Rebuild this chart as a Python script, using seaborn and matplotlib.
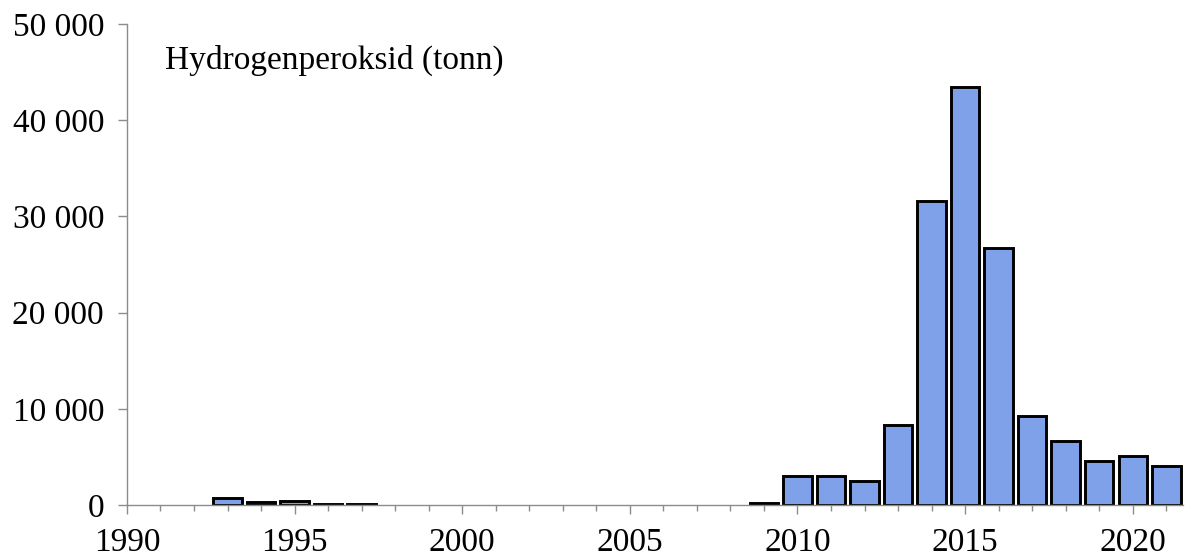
import matplotlib
matplotlib.use("Agg")
import matplotlib.pyplot as plt
import seaborn as sns
from matplotlib.ticker import FuncFormatter, MultipleLocator

# data (tonn per year)
years = [1993, 1994, 1995, 1996, 1997, 2009, 2010, 2011, 2012, 2013,
         2014, 2015, 2016, 2017, 2018, 2019, 2020, 2021]
tonn = [700, 300, 400, 150, 150, 250, 3050, 3050, 2500, 8350,
        31600, 43400, 26700, 9250, 6700, 4600, 5050, 4000]

label = "Hydrogenperoksid (tonn)"
bar_color = "#7ea1e9"
axis_gray = "#8c8c8c"

sns.set_style("white")
plt.rcParams["font.family"] = ["Liberation Serif", "DejaVu Serif"]

fig = plt.figure(figsize=(11.92, 5.57), dpi=100)
ax = fig.add_axes([0.1065, 0.0934, 0.886, 0.8636])

sns.barplot(x=years, y=tonn, native_scale=True, width=0.85, color=bar_color,
            edgecolor="black", linewidth=2.1, saturation=1, ax=ax)

ax.set_xlim(1990, 2021.5)
ax.set_ylim(0, 50000)
ax.xaxis.set_major_locator(MultipleLocator(5))
ax.xaxis.set_minor_locator(MultipleLocator(1))
ax.yaxis.set_major_locator(MultipleLocator(10000))
ax.yaxis.set_major_formatter(FuncFormatter(lambda v, p: f"{int(v):,}".replace(",", " ")))
ax.xaxis.set_major_formatter(FuncFormatter(lambda v, p: f"{int(v)}"))

for s in ["top", "right"]:
    ax.spines[s].set_visible(False)
for s in ["left", "bottom"]:
    ax.spines[s].set_color(axis_gray)
    ax.spines[s].set_linewidth(1.0)

# seaborn's white style switches ticks off, turn them back on
ax.tick_params(axis="both", which="major", direction="out", length=6.5, width=1,
               color=axis_gray, labelsize=24, labelcolor="black")
ax.tick_params(axis="y", which="major", left=True, pad=10)
ax.tick_params(axis="x", which="major", bottom=True, pad=10)
ax.tick_params(axis="x", which="minor", bottom=True, direction="out",
               length=4.5, width=1, color=axis_gray)

ax.set_xlabel("")
ax.set_ylabel("")
ax.text(0.036, 0.925, label, transform=ax.transAxes, fontsize=24,
        color="black", ha="left", va="center")

fig.savefig("out.png", dpi=100)
